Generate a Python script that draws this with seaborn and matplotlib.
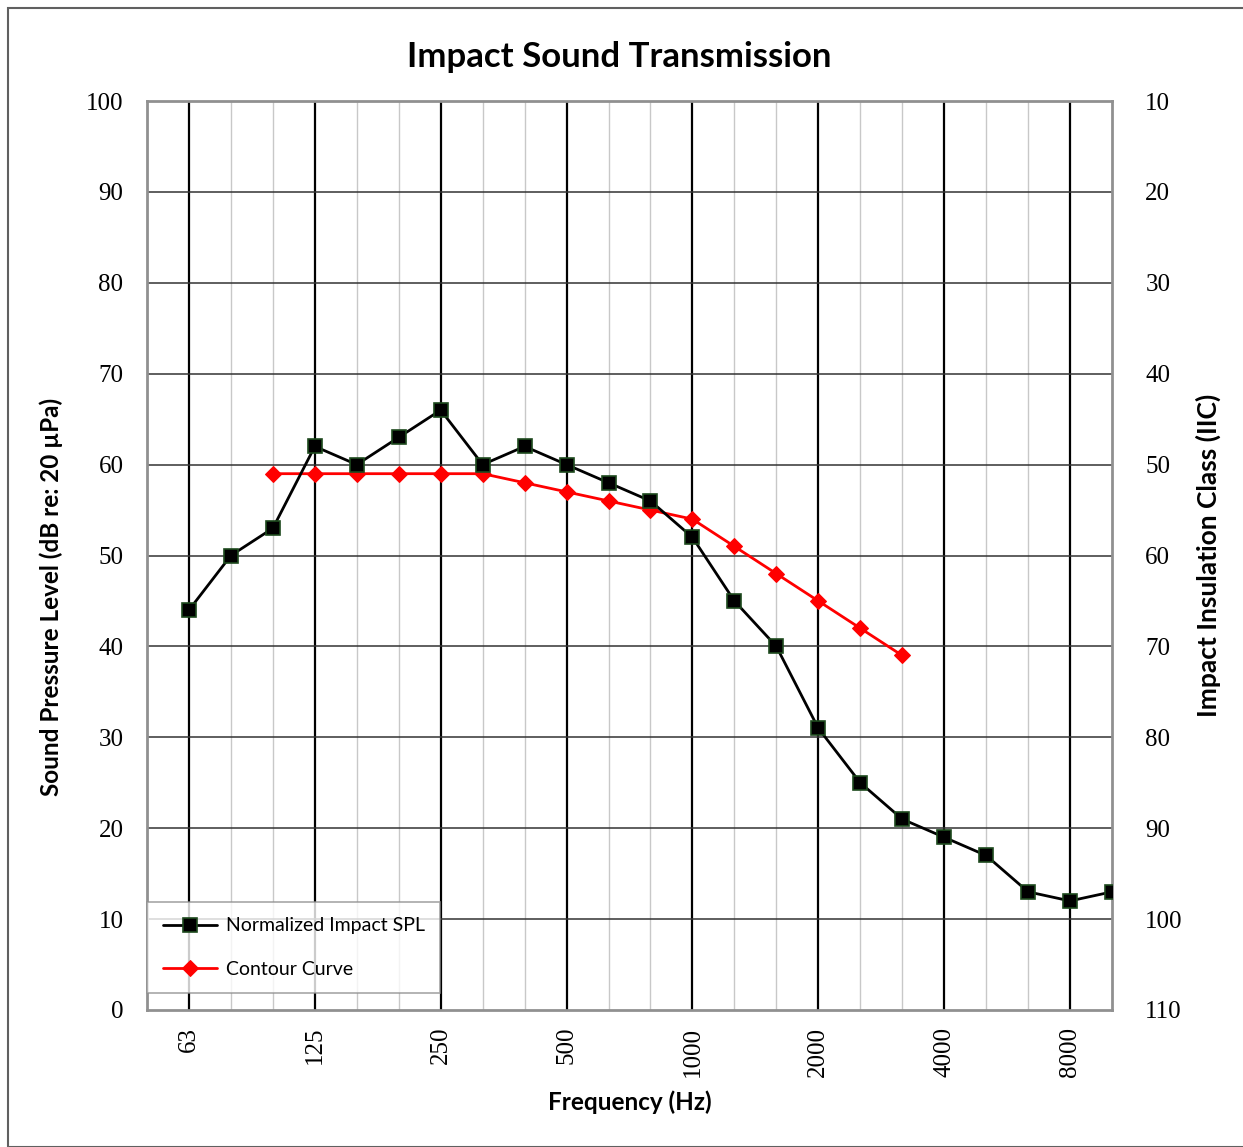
import numpy as np
import pandas as pd
import matplotlib
matplotlib.use("Agg")
import matplotlib.pyplot as plt
import seaborn as sns
from matplotlib.patches import Rectangle

# 1/3 octave bands shown on the axis (50 Hz is the left edge)
bands = [50, 63, 80, 100, 125, 160, 200, 250, 315, 400, 500, 630, 800,
         1000, 1250, 1600, 2000, 2500, 3150, 4000, 5000, 6300, 8000, 10000]
octave_labels = [63, 125, 250, 500, 1000, 2000, 4000, 8000]

spl_freqs = [63, 80, 100, 125, 160, 200, 250, 315, 400, 500, 630, 800,
             1000, 1250, 1600, 2000, 2500, 3150, 4000, 5000, 6300, 8000, 10000]
spl_values = [44, 50, 53, 62, 60, 63, 66, 60, 62, 60, 58, 56,
              52, 45, 40, 31, 25, 21, 19, 17, 13, 12, 13]

contour_freqs = [100, 125, 160, 200, 250, 315, 400, 500, 630, 800,
                 1000, 1250, 1600, 2000, 2500, 3150]
contour_values = [59, 59, 59, 59, 59, 59, 58, 57, 56, 55,
                  54, 51, 48, 45, 42, 39]

spl_df = pd.DataFrame({"pos": [bands.index(f) for f in spl_freqs], "level": spl_values})
contour_df = pd.DataFrame({"pos": [bands.index(f) for f in contour_freqs], "level": contour_values})

sns.set_style("white")
plt.rcParams['font.family'] = ['Lato', 'DejaVu Sans']
plt.rcParams['text.color'] = 'black'
plt.rcParams['axes.labelcolor'] = 'black'
plt.rcParams['xtick.color'] = 'black'
plt.rcParams['ytick.color'] = 'black'

fig = plt.figure(figsize=(12.43, 11.47), dpi=100)
ax = fig.add_axes([147/1243, 1 - 1010/1147, (1112-147)/1243, (1010-101)/1147])

# grid lines
for i in range(1, len(bands) - 1):
    is_major = bands[i] in octave_labels
    ax.axvline(i, color="black" if is_major else "#c8c8c8",
               lw=1.6 if is_major else 1.0, zorder=1)
for y in range(10, 100, 10):
    ax.axhline(y, color="#333333", lw=1.1, zorder=1)

sns.lineplot(data=spl_df, x="pos", y="level", ax=ax, color="black", lw=2,
             marker="s", markersize=10, markerfacecolor="black",
             markeredgecolor="#1e4a1e", markeredgewidth=1.2, zorder=4,
             label="Normalized Impact SPL")
sns.lineplot(data=contour_df, x="pos", y="level", ax=ax, color="#ff0000", lw=2,
             marker="D", markersize=8, markeredgecolor="#ff0000", zorder=3,
             label="Contour Curve")

ax.set_xlim(0, len(bands) - 1)
ax.set_ylim(0, 100)
ax.set_yticks(range(0, 101, 10))
ax.set_xticks([bands.index(f) for f in octave_labels])
ax.set_xticklabels([str(f) for f in octave_labels], rotation=90)
ax.tick_params(length=0)
ax.tick_params(axis="y", pad=17)
ax.tick_params(axis="x", pad=12)
for lab in ax.get_xticklabels() + ax.get_yticklabels():
    lab.set_fontfamily("Liberation Serif")
    lab.set_fontsize(18)

for sp in ax.spines.values():
    sp.set_color("#909090")
    sp.set_linewidth(2)
    sp.set_visible(True)

ax.set_xlabel("Frequency (Hz)", fontsize=17.5, fontweight="bold", labelpad=10)
ax.set_ylabel("Sound Pressure Level (dB re: 20 µPa)", fontsize=17.5,
              fontweight="bold")
ax.yaxis.set_label_coords(-0.087, (1010 - 597) / 909)
fig.text(619/1243, 1 - 57/1147, "Impact Sound Transmission", fontsize=25,
         fontweight="bold", ha="center", va="center")

ax2 = ax.twinx()
ax2.set_ylim(110, 10)
ax2.set_yticks(range(10, 111, 10))
ax2.tick_params(length=0, pad=24)
for lab in ax2.get_yticklabels():
    lab.set_fontfamily("Liberation Serif")
    lab.set_fontsize(18)
for sp in ax2.spines.values():
    sp.set_visible(False)
ax2.set_ylabel("Impact Insulation Class (IIC)", fontsize=19, fontweight="bold", labelpad=9)

leg = ax.legend(loc="lower left", bbox_to_anchor=(0, 0.0185), fontsize=14,
                frameon=True, fancybox=False, edgecolor="#909090",
                borderpad=0.8, labelspacing=1.35, handlelength=2.8,
                handletextpad=0.45, borderaxespad=0)
leg.get_frame().set_linewidth(1.2)
leg.set_zorder(10)

fig.patches.append(Rectangle((8/1243, 0), 1, 1 - 8/1147, transform=fig.transFigure,
                             fill=False, edgecolor="#606060", lw=1.5))

fig.savefig("out.png", dpi=100)
